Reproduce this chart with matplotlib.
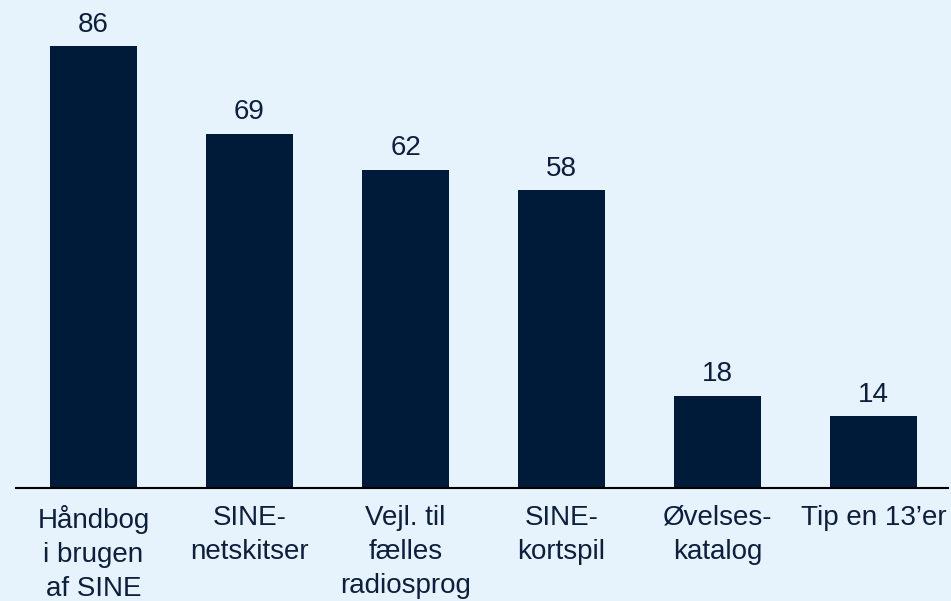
import matplotlib
matplotlib.use("Agg")
import matplotlib.pyplot as plt

categories = ["Håndbog\ni brugen\naf SINE", "SINE-\nnetskitser", "Vejl. til\nfælles\nradiosprog",
              "SINE-\nkortspil", "Øvelses-\nkatalog", "Tip en 13’er"]
values = [86, 69, 62, 58, 18, 14]

bg = "#e6f2fc"
bar_color = "#001b3a"
text_color = "#0d1f3c"

plt.rcParams['font.family'] = ['Liberation Sans', 'DejaVu Sans']

fig = plt.figure(figsize=(9.51, 6.01), dpi=100, facecolor=bg)
ax = fig.add_axes([16/951, (601-488)/601, 932/951, 488/601])
ax.set_facecolor(bg)

x = list(range(len(categories)))
bars = ax.bar(x, values, width=0.557, color=bar_color)
for xi, v in zip(x, values):
    ax.annotate(str(v), (xi, v), xytext=(0, 6), textcoords="offset points",
                ha="center", va="bottom", fontsize=20, color=text_color)

ax.set_xlim(-0.497, 5.477)
ax.set_ylim(0, 95)
ax.set_xticks(x)
ax.set_xticklabels(categories, fontsize=20, color=text_color, linespacing=1.4)
ax.tick_params(axis='x', length=0, pad=12)
ax.set_yticks([])
for s in ["top", "right", "left"]:
    ax.spines[s].set_visible(False)
ax.spines["bottom"].set_color("#000000")
ax.spines["bottom"].set_linewidth(1.5)

fig.savefig("out.png", dpi=100, facecolor=bg)
